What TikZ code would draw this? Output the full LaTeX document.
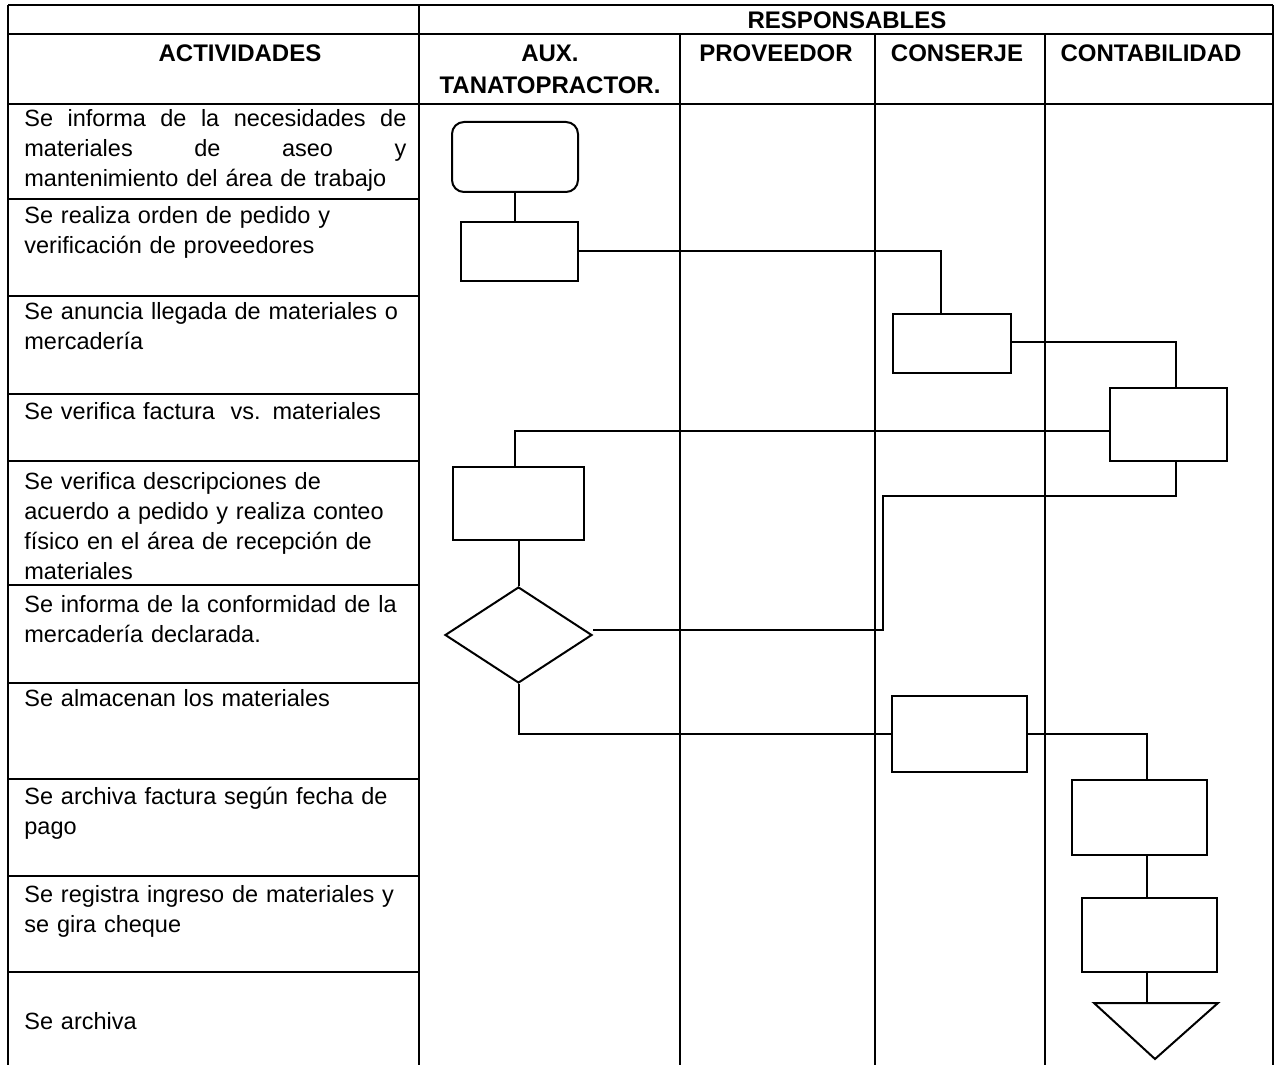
\documentclass[tikz,border=0pt]{standalone}
\usepackage{fontspec}
\setmainfont{Liberation Sans}
\usetikzlibrary{shapes.geometric}

\tikzset{
  tabla/.style={line width=1.1pt},
  linea/.style={line width=1pt},
  caja/.style={draw, line width=1pt, inner sep=0pt},
  actividad/.style={anchor=north west, text width=200pt, align=left, inner sep=0pt,
    font=\fontsize{11.75}{15}\selectfont, execute at begin node=\strut},
  titulo/.style={inner sep=0pt, align=center, font=\bfseries\fontsize{12}{16}\selectfont},
}

\begin{document}
\begin{tikzpicture}[x=0.5pt, y=-0.5pt]
		%%%%% START %%%%%
		\useasboundingbox (0, 0) rectangle (1276, 1065);
		
		% tabla
		\draw[tabla] (8, 5) -- (1273, 5);
		\draw[tabla] (8, 34) -- (1273, 34);
		\draw[tabla] (8, 104) -- (1273, 104);
		\draw[tabla] (8, 5) -- (8, 1065);
		\draw[tabla] (419, 5) -- (419, 1065);
		\draw[tabla] (1273, 5) -- (1273, 1065);
		\draw[tabla] (680, 34) -- (680, 1065);
		\draw[tabla] (875, 34) -- (875, 1065);
		\draw[tabla] (1045, 34) -- (1045, 1065);
		\foreach \y in {199, 296, 394, 461, 585, 683, 779, 876, 972}
			\draw[tabla] (8, \y) -- (419, \y);
		
		% encabezados
		\node[titulo] (resp) at (847, 20) {RESPONSABLES};
		\node[titulo] (acts) at (240, 53) {ACTIVIDADES};
		\node[titulo, anchor=north, execute at begin node=\strut] (aux) at (550, 45) {AUX.\\TANATOPRACTOR.};
		\node[titulo] (prov) at (776, 53) {PROVEEDOR};
		\node[titulo] (cons) at (957, 53) {CONSERJE};
		\node[titulo] (cont) at (1151, 53) {CONTABILIDAD};
		
		% actividades
		\node[actividad] (act1) at (24, 105.6) {\makebox[191pt]{Se\hfill informa\hfill de\hfill la\hfill necesidades\hfill de}\\\makebox[191pt]{materiales\hfill de\hfill aseo\hfill y}\\mantenimiento del área de trabajo};
		\node[actividad] (act2) at (24, 202.6) {Se realiza orden de pedido y\\verificación de proveedores};
		\node[actividad] (act3) at (24, 298.6) {Se anuncia llegada de materiales o\\mercadería};
		\node[actividad] (act4) at (24, 397.6) {Se verifica factura\ \ vs. materiales};
		\node[actividad] (act5) at (24, 467.6) {Se verifica descripciones de\\acuerdo a pedido y realiza conteo\\físico en el área de recepción de\\materiales};
		\node[actividad] (act6) at (24, 590.6) {Se informa de la conformidad de la\\mercadería declarada.};
		\node[actividad] (act7) at (24, 684.6) {Se almacenan los materiales};
		\node[actividad] (act8) at (24, 782.6) {Se archiva factura según fecha de\\pago};
		\node[actividad] (act9) at (24, 880.6) {Se registra ingreso de materiales y\\se gira cheque};
		\node[actividad] (act10) at (24, 1007.6) {Se archiva};
		
		% diagrama
		\node[caja, rounded corners=6pt, minimum width=63pt, minimum height=35pt] (inicio) at (515, 157) {};
		\node[caja, minimum width=58.5pt, minimum height=29.5pt] (pedido) at (519.5, 251.5) {};
		\node[caja, minimum width=59pt, minimum height=29.5pt] (anuncio) at (952, 343.5) {};
		\node[caja, minimum width=58.5pt, minimum height=36.5pt] (factura) at (1168.5, 424.5) {};
		\node[caja, minimum width=65.5pt, minimum height=36.5pt] (conteo) at (518.5, 503.5) {};
		\node[caja, diamond, minimum width=73.5pt, minimum height=48pt] (conformidad) at (518.5, 635) {};
		\node[caja, minimum width=67.5pt, minimum height=38pt] (almacen) at (959.5, 734) {};
		\node[caja, minimum width=67.5pt, minimum height=37.5pt] (archivo) at (1139.5, 817.5) {};
		\node[caja, minimum width=67.5pt, minimum height=37pt] (registro) at (1149.5, 935) {};
		\draw[linea] (1094, 1003) -- (1218, 1003) -- (1155, 1059) -- cycle;
		\coordinate (fin) at (1146.5, 1003);
		\coordinate (cruce) at (883, 496);
		
		% conectores
		\draw[linea] (inicio.south) -- (inicio.south |- pedido.north);
		\draw[linea] (pedido.east) -| ([xshift=-5.5pt]anuncio.north);
		\draw[linea] ([yshift=1pt]anuncio.east) -| ([xshift=3.5pt]factura.north);
		\draw[linea] ([yshift=-3.25pt]factura.west) -| ([xshift=-2pt]conteo.north);
		\draw[linea] ([xshift=3.5pt]factura.south) |- (cruce) |- ([yshift=2.5pt]conformidad.east);
		\draw[linea] (conteo.south) -- (conformidad.north);
		\draw[linea] (conformidad.south) |- (almacen.west);
		\draw[linea] (almacen.east) -| ([xshift=3.5pt]archivo.north);
		\draw[linea] ([xshift=3.5pt]archivo.south) -- ([xshift=3.5pt]archivo.south |- registro.north);
		\draw[linea] (fin |- registro.south) -- (fin);
		
		%%%%% END %%%%%
\end{tikzpicture}
\end{document}
